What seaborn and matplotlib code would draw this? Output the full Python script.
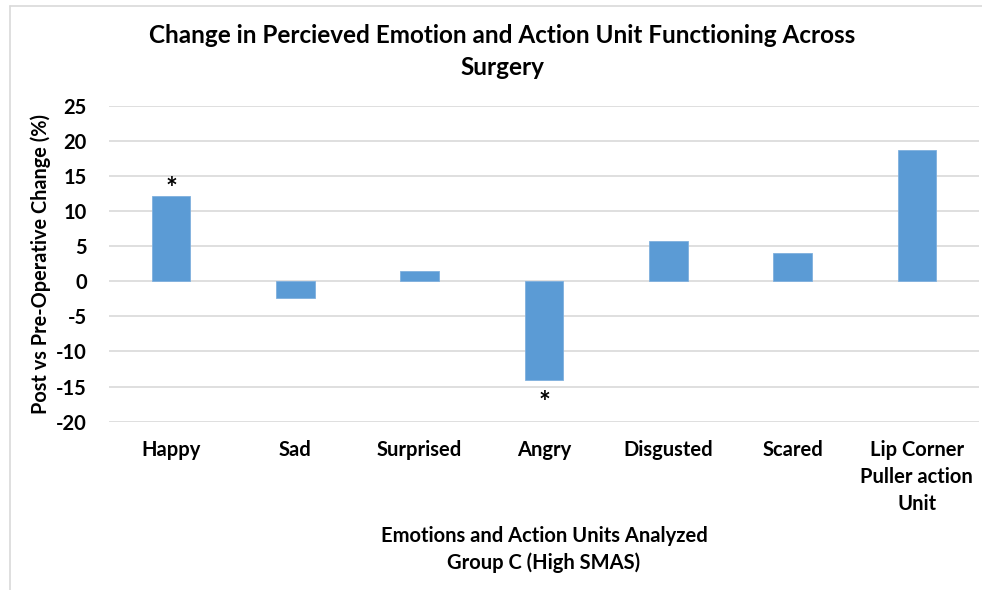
import matplotlib
matplotlib.use("Agg")
import matplotlib.pyplot as plt
import seaborn as sns
import pandas as pd
from matplotlib.lines import Line2D

categories = ["Happy", "Sad", "Surprised", "Angry", "Disgusted", "Scared",
              "Lip Corner\nPuller action\nUnit"]
values = [12.1, -2.4, 1.5, -14.0, 5.8, 4.0, 18.7]
significant = [True, False, False, True, False, False, False]
yticks = [-20, -15, -10, -5, 0, 5, 10, 15, 20, 25]

title = "Change in Percieved Emotion and Action Unit Functioning Across\nSurgery"
ylabel = "Post vs Pre-Operative Change (%)"
xlabel = "Emotions and Action Units Analyzed\nGroup C (High SMAS)"

sns.set_theme(style="white")
plt.rcParams['font.family'] = ['Lato', 'DejaVu Sans']
plt.rcParams['font.weight'] = 'bold'
plt.rcParams['axes.unicode_minus'] = False

df = pd.DataFrame({"cat": categories, "val": values})

fig = plt.figure(figsize=(9.82, 5.90), dpi=100)
ax = fig.add_axes([109/982, 1 - 421.7/590, (979-109)/982, (421.7-105.7)/590])

sns.barplot(data=df, x="cat", y="val", color="#5B9BD5", saturation=1,
            width=0.31, ax=ax, zorder=3, edgecolor="#7FB0DE", linewidth=0.6)

ax.set_ylim(-20, 25)
ax.set_xlim(-0.5, len(categories) - 0.5)
ax.set_yticks(yticks)
ax.yaxis.grid(True, color="#D9D9D9", linewidth=1.2, zorder=0)
ax.set_axisbelow(True)
for s in ax.spines.values():
    s.set_visible(False)
ax.tick_params(axis='both', length=0)
ax.tick_params(axis='y', pad=16)
ax.tick_params(axis='x', pad=13)
for lab in ax.get_yticklabels() + ax.get_xticklabels():
    lab.set_fontsize(14.5)
    lab.set_fontweight('bold')
    lab.set_color('#000000')
for lab in ax.get_xticklabels():
    lab.set_linespacing(1.45)
    lab.set_verticalalignment('top')

ax.set_ylabel(ylabel, fontsize=14.3, fontweight='bold', color='black', labelpad=3.5)
ax.set_xlabel(xlabel, fontsize=14.5, fontweight='bold', color='black',
              labelpad=8.5, linespacing=1.4)

for i, (v, sig) in enumerate(zip(values, significant)):
    if sig:
        off = 5 if v > 0 else -17
        ax.annotate("*", (i, v), xytext=(0, off), textcoords="offset points",
                    ha="center", va="center", fontsize=20, fontweight='bold',
                    color='black')

fig.text(502/982, 1 - 51.5/590, title, ha="center", va="center", fontsize=17.5,
         fontweight='bold', color='black', linespacing=1.5)

# chart frame (left and top edges)
fig.add_artist(Line2D([10/982, 10/982], [0, 1 - 6/590], transform=fig.transFigure,
                      color="#D9D9D9", linewidth=1.2))
fig.add_artist(Line2D([10/982, 1], [1 - 6/590, 1 - 6/590], transform=fig.transFigure,
                      color="#D9D9D9", linewidth=1.2))

fig.savefig("out.png", dpi=100, facecolor="white")
